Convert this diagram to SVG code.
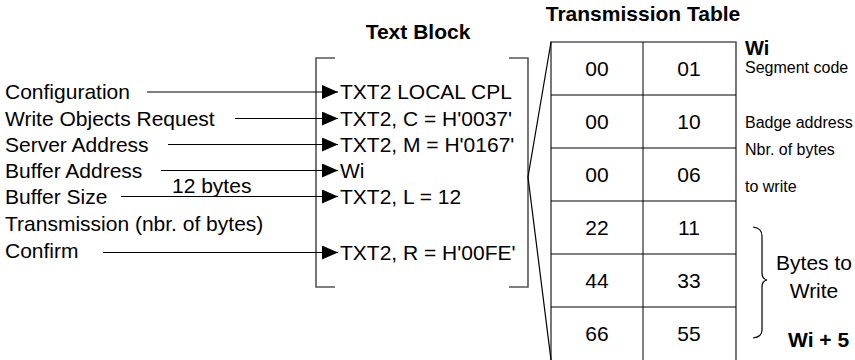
<svg xmlns="http://www.w3.org/2000/svg" width="855" height="360" viewBox="0 0 855 360">
<style>
text{font-family:"Liberation Sans",Arial,sans-serif;fill:#000}
.lbl{font-size:21px}
.ttl{font-size:21px;font-weight:bold}
.sm{font-size:16px}
.num{font-size:21px;text-anchor:middle}
.con{stroke:#000;stroke-width:1.2;fill:none}
.brk{stroke:#555;stroke-width:1.6;fill:none}
.cell{stroke:#000;stroke-width:1;fill:none}
.frame{stroke:#555;stroke-width:1.6;fill:none}
</style>
<defs>
<marker id="arr" markerUnits="userSpaceOnUse" markerWidth="16" markerHeight="14" refX="16" refY="7" orient="auto">
<path d="M0,0 L16,7 L0,14 z" fill="#000"/>
</marker>
</defs>
<rect width="855" height="360" fill="#fff"/>

<g id="inputs">
<text class="lbl" x="5" y="99">Configuration</text>
<text class="lbl" x="5" y="126">Write Objects Request</text>
<text class="lbl" x="5" y="152">Server Address</text>
<text class="lbl" x="5" y="178">Buffer Address</text>
<text class="lbl" x="5" y="204">Buffer Size</text>
<text class="lbl" x="5" y="231">Transmission (nbr. of bytes)</text>
<text class="lbl" x="5" y="258">Confirm</text>
<text class="lbl" x="172" y="193">12 bytes</text>
</g>

<g id="text-block">
<text class="ttl" x="418" y="39" text-anchor="middle">Text Block</text>
<path class="brk" d="M335,58 H316 V287 H335"/>
<path class="brk" d="M509,58 H528 V287 H509"/>
<text class="lbl" x="340" y="99">TXT2 LOCAL CPL</text>
<text class="lbl" x="340" y="126">TXT2, C = H'0037'</text>
<text class="lbl" x="340" y="152">TXT2, M = H'0167'</text>
<text class="lbl" x="340" y="178">Wi</text>
<text class="lbl" x="340" y="204">TXT2, L  = 12</text>
<text class="lbl" x="340" y="260">TXT2, R = H'00FE'</text>
</g>

<g id="transmission-table">
<text class="ttl" x="643" y="21" text-anchor="middle">Transmission Table</text>
<path class="frame" d="M551,360 V42 H736 V360"/>
<path class="cell" d="M643,42 V360 M551,95 H736 M551,148 H736 M551,201 H736 M551,254 H736 M551,307 H736"/>
<text class="num" x="597" y="76">00</text><text class="num" x="689" y="76">01</text>
<text class="num" x="597" y="129">00</text><text class="num" x="689" y="129">10</text>
<text class="num" x="597" y="182">00</text><text class="num" x="689" y="182">06</text>
<text class="num" x="597" y="235">22</text><text class="num" x="689" y="235">11</text>
<text class="num" x="597" y="288">44</text><text class="num" x="689" y="288">33</text>
<text class="num" x="597" y="341">66</text><text class="num" x="689" y="341">55</text>
</g>

<g id="annotations">
<text class="ttl" x="745" y="55" style="font-size:20px">Wi</text>
<text class="sm" x="745" y="73">Segment code</text>
<text class="sm" x="745" y="128">Badge address</text>
<text class="sm" x="745" y="155">Nbr. of bytes</text>
<text class="sm" x="745" y="192">to write</text>
<path class="con" d="M753,227 Q762,228 762,236 V273 Q762,279 767,280 Q762,281 762,287 V330 Q762,337 753,338"/>
<text class="lbl" x="814" y="270" text-anchor="middle">Bytes to</text>
<text class="lbl" x="814" y="298" text-anchor="middle">Write</text>
<text class="ttl" x="788" y="347">Wi + 5</text>
</g>

<g id="connectors">
<line class="con" x1="147" y1="92" x2="338" y2="92" marker-end="url(#arr)"/>
<line class="con" x1="235" y1="118.5" x2="338" y2="118.5" marker-end="url(#arr)"/>
<line class="con" x1="168" y1="144.5" x2="338" y2="144.5" marker-end="url(#arr)"/>
<line class="con" x1="161" y1="170.5" x2="338" y2="170.5" marker-end="url(#arr)"/>
<line class="con" x1="121" y1="196.5" x2="338" y2="196.5" marker-end="url(#arr)"/>
<line class="con" x1="103" y1="252.5" x2="338" y2="252.5" marker-end="url(#arr)"/>
<path class="con" d="M551,42 L528,177 L551,360"/>
</g>
</svg>
